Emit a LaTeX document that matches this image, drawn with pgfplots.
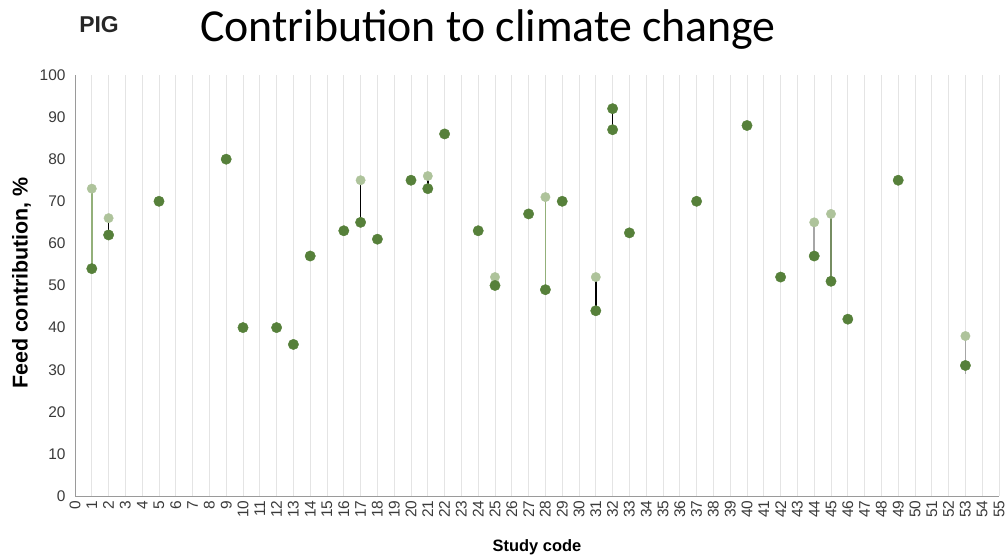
\documentclass[border=0pt]{standalone}
\usepackage{pgfplots}
\pgfplotsset{compat=1.18}
\usepackage{fontspec}
\setmainfont{Liberation Sans}
\newfontfamily\titlefont{Carlito}
\definecolor{darkg}{HTML}{56803A}
\definecolor{lightg}{HTML}{AEC39B}
\definecolor{lineg}{HTML}{93B07A}
\definecolor{gridc}{HTML}{E4E4E4}
\definecolor{axc}{HTML}{9A9A9A}
\definecolor{tickc}{HTML}{3A3A3A}
\begin{document}
\begin{tikzpicture}[x=1bp,y=1bp]
\useasboundingbox (0,0) rectangle (1006,559);
\begin{axis}[
  at={(75bp,63bp)}, anchor=origin,
  scale only axis, width=924bp, height=421bp,
  xmin=0, xmax=55, ymin=0, ymax=100,
  axis x line*=bottom, axis y line*=left,
  axis line style={axc, line width=0.9pt},
  xtick={0,...,55}, ytick={0,10,...,100},
  major tick length=0pt,
  xmajorgrids, major x grid style={gridc, line width=0.9pt},
  /pgf/number format/assume math mode=true,
  tick label style={font=\fontsize{15.5}{15.5}\selectfont, text=tickc},
  xticklabel style={rotate=90, anchor=east, xshift=-1bp},
  yticklabel style={xshift=-6bp},
  xlabel={Study code},
  ylabel={Feed contribution, \%},
  every axis x label/.style={at={(axis description cs:0.5,-0.122)}, anchor=center, font=\bfseries\fontsize{16.5}{16.5}\selectfont},
  every axis y label/.style={at={(axis description cs:-0.058,0.506)}, rotate=90, anchor=center, font=\bfseries\fontsize{21.5}{21.5}\selectfont},
  clip=false,
]
% connecting segments
\addplot[lineg, line width=1.5pt] coordinates {(1,54) (1,73)};
\addplot[black, line width=1.5pt] coordinates {(2,62) (2,66)};
\addplot[black, line width=1.5pt] coordinates {(17,65) (17,75)};
\addplot[black, line width=1.5pt] coordinates {(21,73) (21,76)};
\addplot[lineg, line width=1.5pt] coordinates {(28,49) (28,71)};
\addplot[black, line width=1.5pt] coordinates {(31,44) (31,52)};
\addplot[black, line width=1.5pt] coordinates {(32,87) (32,92)};
\addplot[gray!70, line width=1.5pt] coordinates {(44,57) (44,65)};
\addplot[lineg!80!black, line width=1.5pt] coordinates {(45,51) (45,67)};
\addplot[gray!70, line width=1.5pt] coordinates {(53,29) (53,38)};
% light points
\addplot[only marks, mark=*, mark size=4.7bp, mark options={fill=lightg, draw=lightg}] coordinates {
(1,73) (2,66) (17,75) (21,76) (25,52) (28,71) (31,52) (44,65) (45,67) (53,38)
};
% dark points
\addplot[only marks, mark=*, mark size=5.2bp, mark options={fill=darkg, draw=darkg}] coordinates {
(1,54) (2,62) (5,70) (9,80) (10,40) (12,40) (13,36) (14,57) (16,63) (17,65)
(18,61) (20,75) (21,73) (22,86) (24,63) (25,50) (27,67) (28,49) (29,70) (31,44)
(32,92) (32,87) (33,62.5) (37,70) (40,88) (42,52) (44,57) (45,51) (46,42) (49,75) (53,31)
};
\end{axis}
\node[anchor=base, font=\bfseries\fontsize{23}{23}\selectfont, text=black!85] at (99,526) {PIG};
\node[anchor=base, font=\titlefont\fontsize{46}{46}\selectfont] at (488,517) {Contribution to climate change};
\end{tikzpicture}
\end{document}
